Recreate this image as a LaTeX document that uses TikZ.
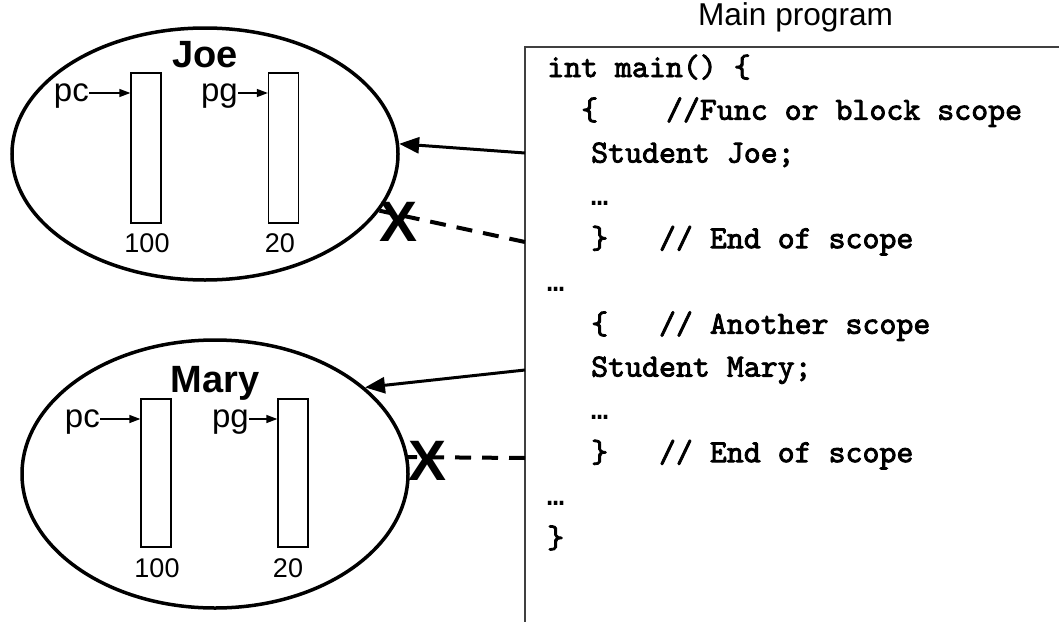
\documentclass[tikz,border=0pt]{standalone}
\usepackage{fontspec}
\setmainfont{Liberation Sans}
\newfontfamily\dotsfont{Liberation Mono}
\newfontfamily\codefont{lmmono10-regular}[Extension=.otf, FakeBold=2.5]
\usetikzlibrary{shapes.geometric,arrows.meta}

\begin{document}
\begin{tikzpicture}[x=1pt,y=-1pt,
  scopeoval/.style={draw, line width=3.5pt, ellipse, inner sep=0pt},
  cell/.style={draw, line width=1.3pt, minimum width=30pt, inner sep=0pt},
  objname/.style={font=\fontsize{38}{44}\selectfont\bfseries, inner sep=0pt, anchor=base},
  ptrlabel/.style={font=\fontsize{33}{38}\selectfont, inner sep=0pt, anchor=base east},
  value/.style={font=\fontsize{27}{32}\selectfont, inner sep=0pt, anchor=base},
  ptr/.style={line width=1.3pt, -{Triangle[length=11pt,width=8pt]}},
  codeline/.style={font=\codefont\bfseries\fontsize{32.3}{38}\selectfont, inner sep=0pt, anchor=base west},
  elided/.style={font=\dotsfont\bfseries\fontsize{28.3}{34}\selectfont, inner sep=0pt, anchor=base west},
  codebox/.style={draw=black!75, line width=2pt, minimum width=560pt, minimum height=600pt, inner sep=0pt},
  link/.style={line width=3pt, -{Triangle[length=20pt,width=16pt]}},
  deadlink/.style={line width=4pt, dash pattern=on 16pt off 11pt},
  cross/.style={font=\fontsize{57}{60}\selectfont\bfseries, inner sep=0pt}
]
\useasboundingbox (0,0) rectangle (1059,621);

% ---- program listing ----
\node[codebox] (code) at (805,347) {};
\node[font=\fontsize{31.6}{36}\selectfont, inner sep=0pt, anchor=base] (title) at (795.5,25) {Main program};

\node[codeline] (l1)  at (547,77)    {int main() \{};
\node[codeline] (l2)  at (581,119.8) {\{\hspace{2.1em}//Func or block scope};
\node[codeline] (l3)  at (591,162.6) {Student Joe;};
\node[elided]   (l4)  at (591,205.4) {…};
\node[codeline] (l5)  at (591,248.2) {\}\hspace{1.575em}// End of scope};
\node[elided]   (l6)  at (547,291)   {…};
\node[codeline] (l7)  at (591,333.8) {\{\hspace{1.575em}// Another scope};
\node[codeline] (l8)  at (591,376.6) {Student Mary;};
\node[elided]   (l9)  at (591,419.4) {…};
\node[codeline] (l10) at (591,462.2) {\}\hspace{1.575em}// End of scope};
\node[elided]   (l11) at (547,505)   {…};
\node[codeline] (l12) at (547,547.8) {\}};

% ---- object Joe ----
\node[scopeoval, minimum width=386pt, minimum height=252pt] (joe) at (205,154) {};
\node[objname] (joename) at (205,67) {Joe};
\node[cell, minimum height=150pt] (jpccell) at (146,148) {};
\node[cell, minimum height=150pt] (jpgcell) at (283.5,148) {};
\node[ptrlabel] (jpc) at (89,101) {pc};
\node[ptrlabel] (jpg) at (238,101) {pg};
\draw[ptr] ([yshift=8pt]jpc.base east) -- ([yshift=8pt]jpc.base east -| jpccell.west);
\draw[ptr] ([yshift=8pt]jpg.base east) -- ([yshift=8pt]jpg.base east -| jpgcell.west);
\node[value] (jpcval) at (147,252) {100};
\node[value] (jpgval) at (280,252) {20};

% ---- object Mary ----
\node[scopeoval, minimum width=386pt, minimum height=268pt] (mary) at (215,474) {};
\node[objname] (maryname) at (215,392) {Mary};
\node[cell, minimum height=148pt] (mpccell) at (156,473) {};
\node[cell, minimum height=148pt] (mpgcell) at (293,473) {};
\node[ptrlabel] (mpc) at (100,427) {pc};
\node[ptrlabel] (mpg) at (249,427) {pg};
\draw[ptr] ([yshift=8pt]mpc.base east) -- ([yshift=8pt]mpc.base east -| mpccell.west);
\draw[ptr] ([yshift=8pt]mpg.base east) -- ([yshift=8pt]mpg.base east -| mpgcell.west);
\node[value] (mpcval) at (157,577) {100};
\node[value] (mpgval) at (288,577) {20};

% ---- links from the listing to the objects ----
\coordinate (joeborn) at (525,153);
\coordinate (joedied) at (525,242);
\coordinate (maryborn) at (525,370);
\coordinate (marydied) at (525,458);

\draw[link] (joeborn) -- (joe.3);
\draw[deadlink] (joedied) -- (joe.-18);
\node[cross] (joex) at (399,222) {X};

\draw[link] (maryborn) -- (mary.30);
\draw[deadlink] (marydied) -- (mary.5);
\node[cross] (maryx) at (428,461) {X};
\end{tikzpicture}
\end{document}
